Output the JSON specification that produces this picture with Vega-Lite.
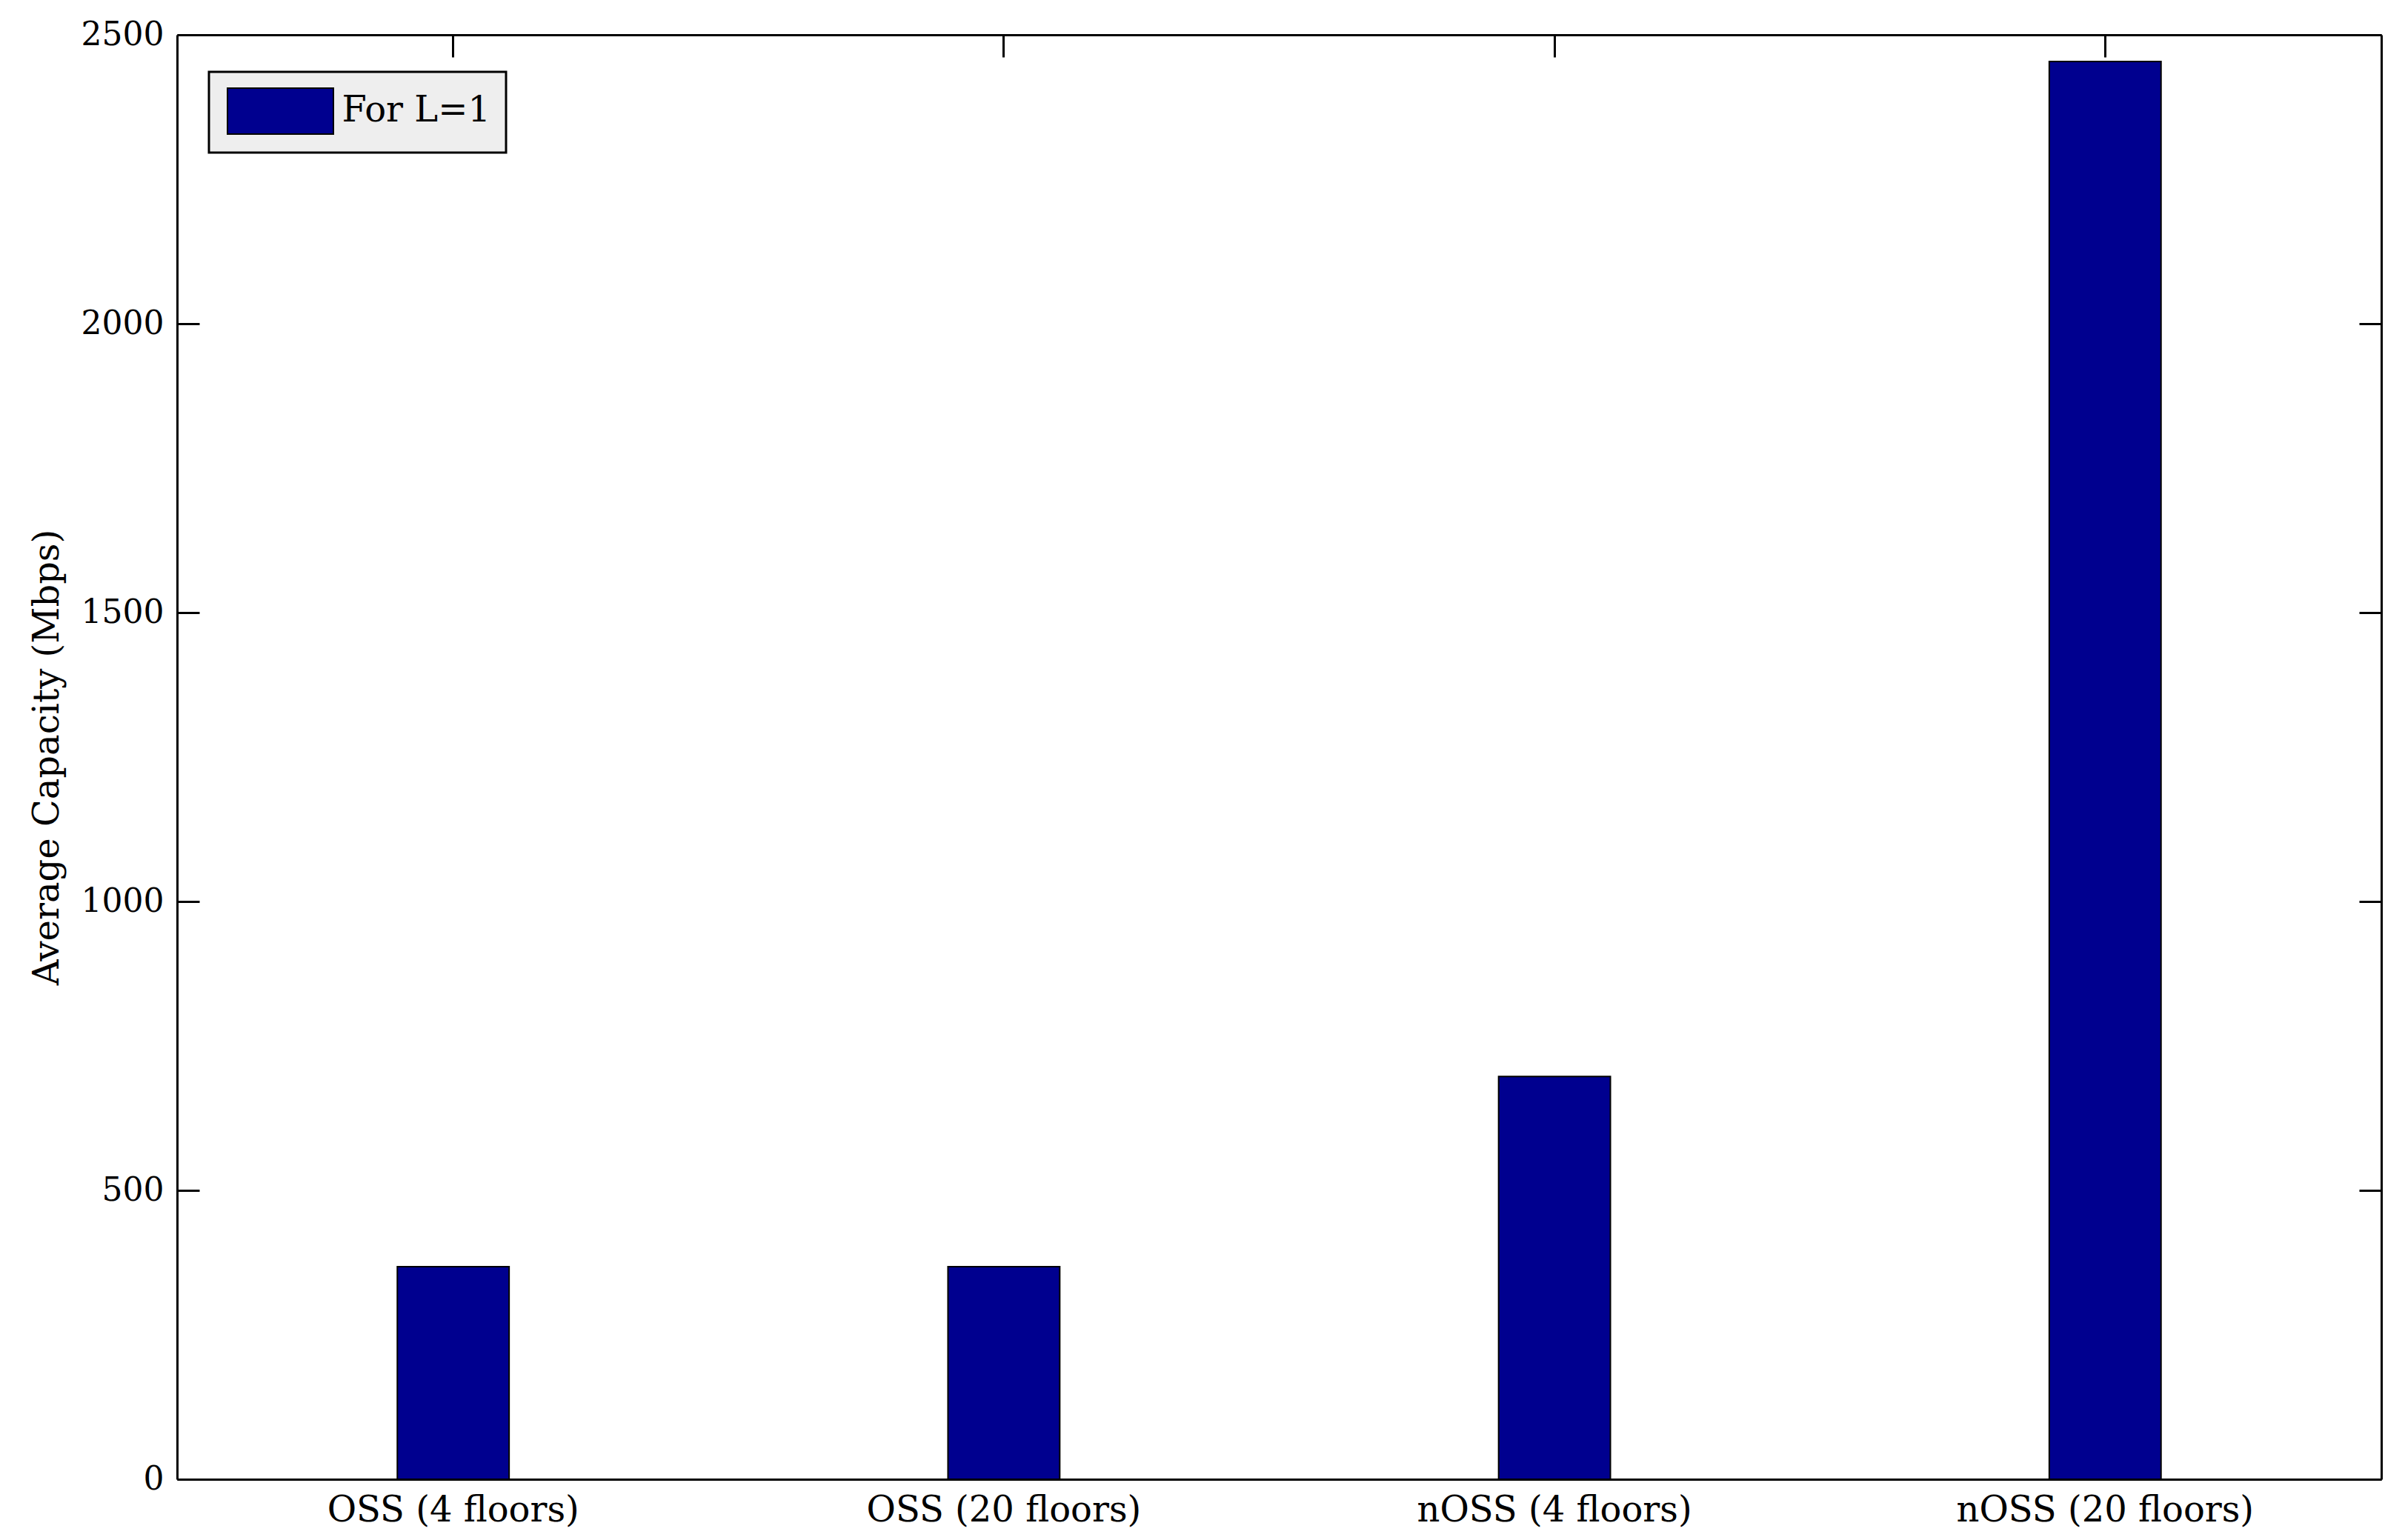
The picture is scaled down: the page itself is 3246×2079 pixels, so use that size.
{
  "$schema": "https://vega.github.io/schema/vega-lite/v6.json",
  "width": 2975,
  "height": 1950,
  "autosize": {"type": "none"},
  "padding": {"left": 239, "top": 47, "right": 32, "bottom": 82},
  "background": "white",
  "config": {
    "font": "DejaVu Serif",
    "view": {"stroke": null},
    "legend": {"strokeWidth": 3}
  },
  "data": {
    "values": [
      {"scenario": "OSS (4 floors)", "capacity": 368},
      {"scenario": "OSS (20 floors)", "capacity": 368},
      {"scenario": "nOSS (4 floors)", "capacity": 697},
      {"scenario": "nOSS (20 floors)", "capacity": 2454}
    ]
  },
  "resolve": {"axis": {"x": "independent", "y": "independent"}},
  "layer": [
    {
      "mark": {"type": "bar", "stroke": "black", "strokeWidth": 2, "opacity": 1},
      "encoding": {
        "x": {
          "field": "scenario", "type": "nominal", "sort": null,
          "scale": {"paddingInner": 0.797, "paddingOuter": 0.4},
          "axis": {
            "orient": "bottom", "title": null, "labelAngle": 0, "ticks": false,
            "domain": true, "domainColor": "black", "domainWidth": 3,
            "labelFont": "DejaVu Serif", "labelFontSize": 48, "labelColor": "black",
            "labelPadding": 18, "labelBaseline": "top", "labelLimit": 0, "labelOverlap": false
          }
        },
        "y": {
          "field": "capacity", "type": "quantitative",
          "scale": {"domain": [0, 2500], "nice": false, "zero": true},
          "axis": {
            "orient": "left", "title": "Average Capacity (Mbps)", "format": "d",
            "values": [0, 500, 1000, 1500, 2000, 2500], "grid": false,
            "domain": true, "domainColor": "black", "domainWidth": 3,
            "tickSize": -30, "tickWidth": 3, "tickColor": "black",
            "labelPadding": 48, "labelFont": "DejaVu Serif", "labelFontSize": 44, "labelColor": "black",
            "labelFlush": false, "labelOverlap": false,
            "titleFont": "DejaVu Serif", "titleFontSize": 48, "titleFontWeight": "normal", "titleColor": "black",
            "titleX": -175, "titleY": 975, "titleAngle": -90, "titleBaseline": "middle", "titleAlign": "center"
          }
        },
        "color": {
          "datum": "For L=1", "type": "nominal",
          "scale": {"range": ["#00008F"]},
          "legend": {
            "orient": "none", "legendX": 43, "legendY": 50, "title": null,
            "padding": 21, "fillColor": "#eeeeee", "strokeColor": "black",
            "symbolType": "M-2.306,-1H2.306V1H-2.306Z", "symbolSize": 3844,
            "symbolOffset": 43.5, "symbolStrokeColor": "black", "symbolStrokeWidth": 2,
            "symbolOpacity": 1,
            "labelFont": "DejaVu Serif", "labelFontSize": 48, "labelColor": "black",
            "labelOffset": 51, "labelLimit": 600
          }
        }
      }
    },
    {
      "mark": {"type": "bar", "opacity": 0},
      "encoding": {
        "x": {
          "field": "scenario", "type": "nominal", "sort": null,
          "axis": {
            "orient": "top", "title": null, "labels": false,
            "domain": true, "domainColor": "black", "domainWidth": 3,
            "tickSize": -30, "tickWidth": 3, "tickColor": "black"
          }
        },
        "y": {
          "field": "capacity", "type": "quantitative",
          "axis": {
            "orient": "right", "title": null, "labels": false, "grid": false,
            "values": [0, 500, 1000, 1500, 2000, 2500],
            "domain": true, "domainColor": "black", "domainWidth": 3,
            "tickSize": -30, "tickWidth": 3, "tickColor": "black"
          }
        }
      }
    }
  ]
}
